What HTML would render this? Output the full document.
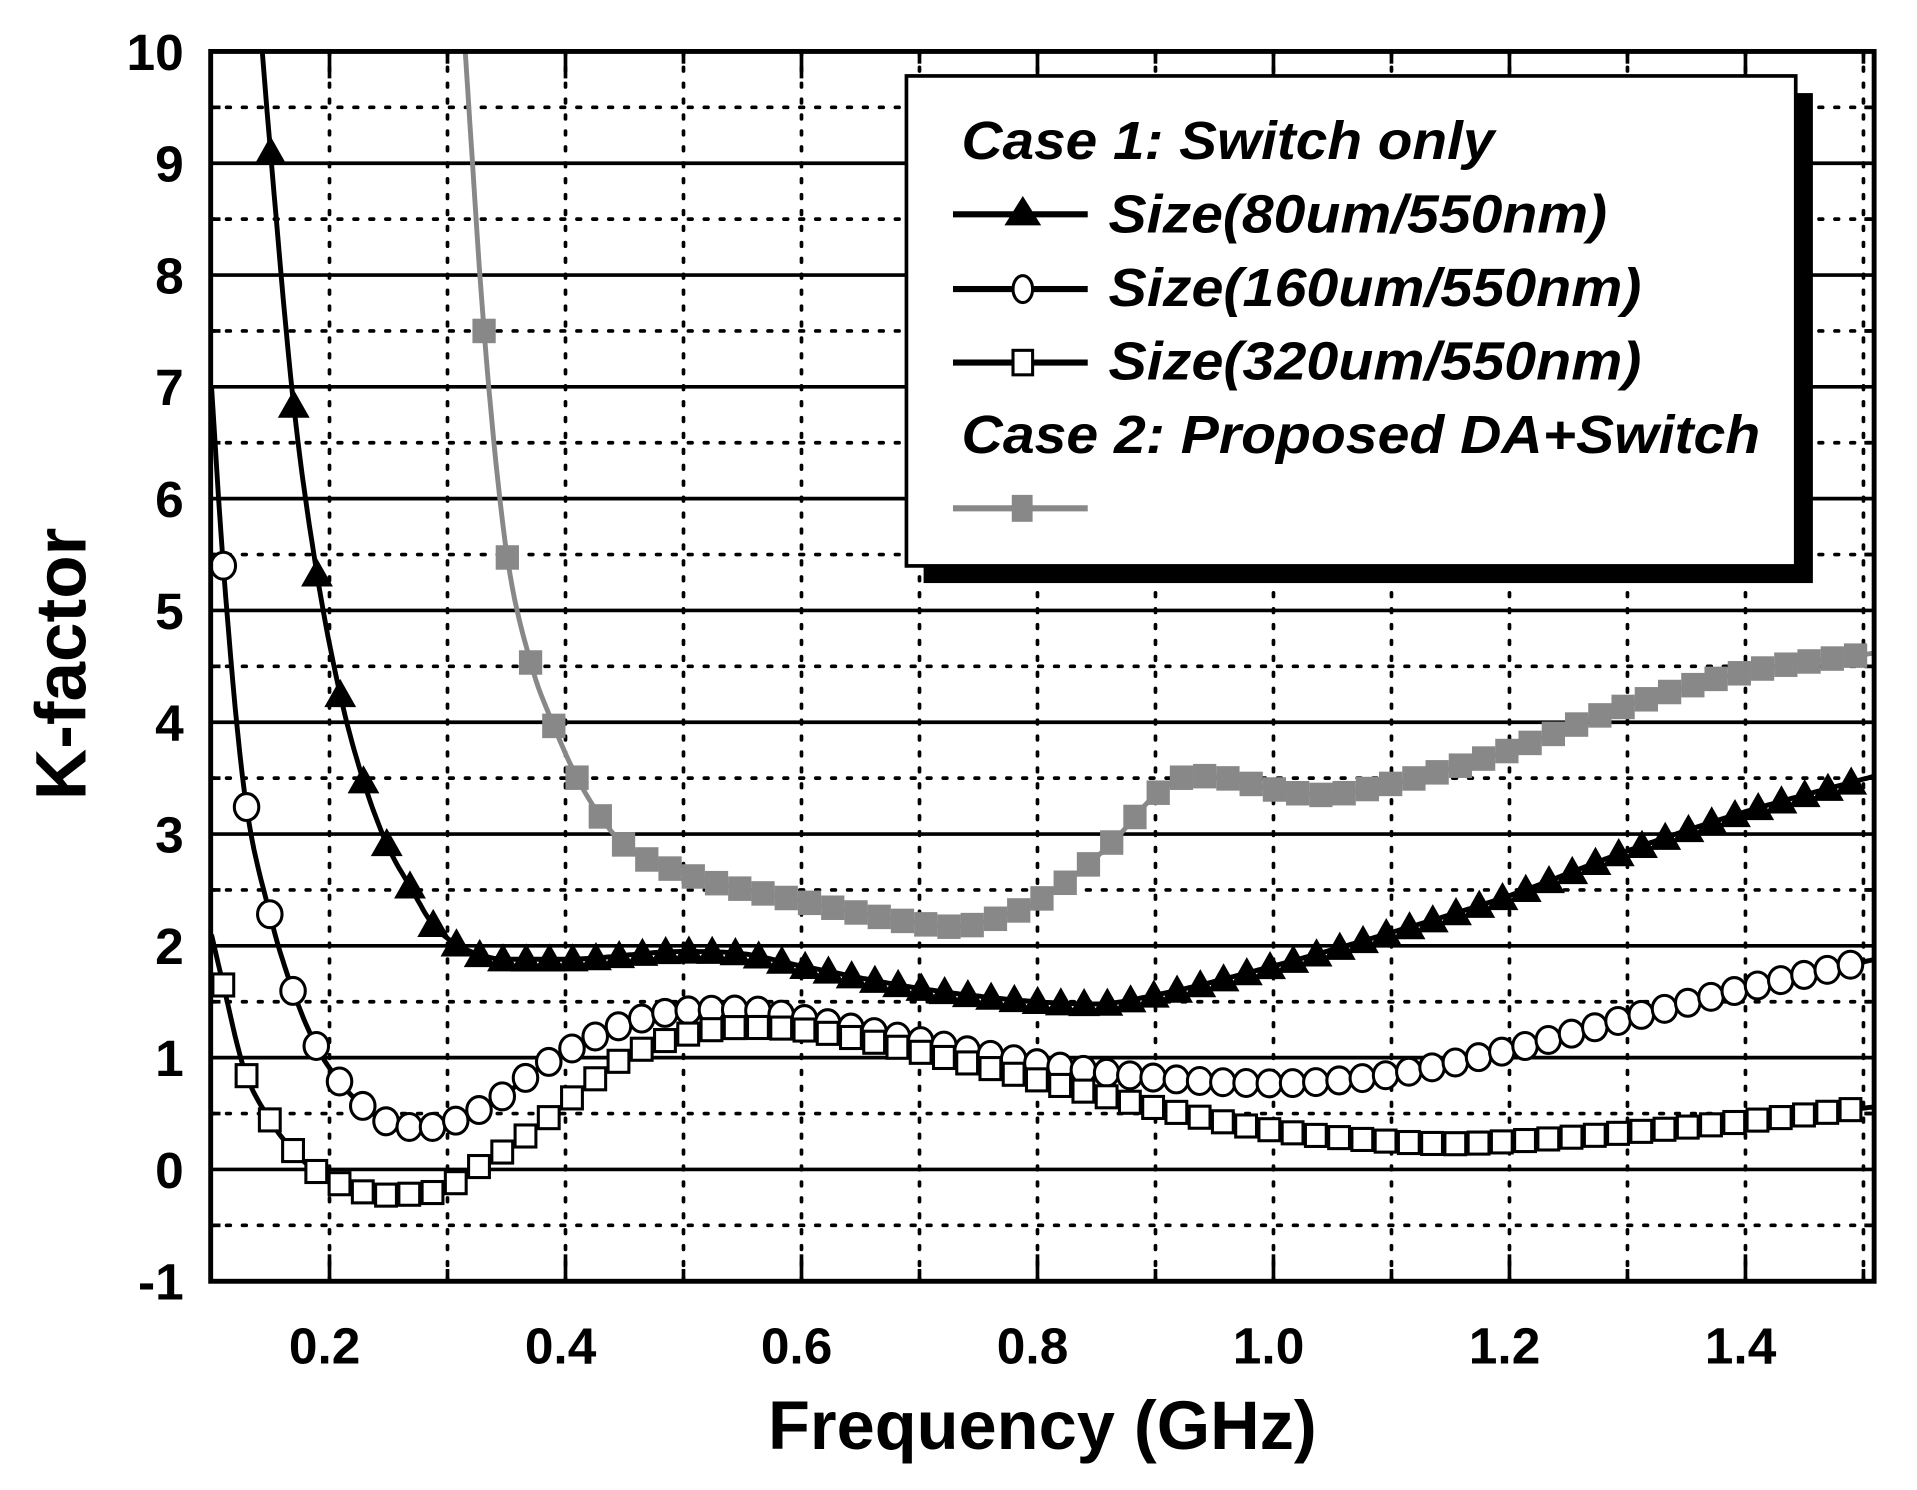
<!DOCTYPE html>
<html><head><meta charset="utf-8"><style>
html,body{margin:0;padding:0;background:#fff;}
svg{display:block;}
text{font-family:"Liberation Sans",sans-serif;font-weight:bold;}
</style></head><body>
<svg id="s" width="1917" height="1490" viewBox="0 0 1565 1216.4" preserveAspectRatio="none" xmlns="http://www.w3.org/2000/svg">
<rect x="0" y="0" width="1565" height="1217" fill="#fff"/>
<g id="grid"></g>
<g id="series"></g>
<g id="legend">
<rect x="754" y="76" width="726" height="400" fill="#000"/>
<rect x="740" y="62" width="726" height="400" fill="#fff" stroke="#000" stroke-width="3"/>
<text x="785" y="130" font-size="44" font-style="italic" textLength="435" lengthAdjust="spacingAndGlyphs">Case 1: Switch only</text>
<line x1="778" y1="175" x2="888" y2="175" stroke="#000" stroke-width="5"/>
<polygon points="835,160 820,184 850,184" fill="#000"/>
<text x="905" y="190" font-size="44" font-style="italic" textLength="407" lengthAdjust="spacingAndGlyphs">Size(80um/550nm)</text>
<line x1="778" y1="236" x2="888" y2="236" stroke="#000" stroke-width="5"/>
<ellipse cx="835" cy="236" rx="8" ry="11" fill="#fff" stroke="#000" stroke-width="2.5"/>
<text x="905" y="250" font-size="44" font-style="italic" textLength="435" lengthAdjust="spacingAndGlyphs">Size(160um/550nm)</text>
<line x1="778" y1="296" x2="888" y2="296" stroke="#000" stroke-width="5"/>
<rect x="827" y="286" width="16" height="20" fill="#fff" stroke="#000" stroke-width="2.5"/>
<text x="905" y="310" font-size="44" font-style="italic" textLength="435" lengthAdjust="spacingAndGlyphs">Size(320um/550nm)</text>
<text x="785" y="370" font-size="44" font-style="italic" textLength="652" lengthAdjust="spacingAndGlyphs">Case 2: Proposed DA+Switch</text>
<line x1="778" y1="415" x2="888" y2="415" stroke="#888" stroke-width="5"/>
<rect x="826" y="404" width="17" height="22" fill="#888"/>
</g>
<g id="labels"></g>
</svg>
<script>
var NS="http://www.w3.org/2000/svg";
function X(f){return 269+(f-0.2)*963.3;}
function Y(k){return 42+(10-k)*91.27;}
function el(p,t,a,txt){var e=document.createElementNS(NS,t);for(var k in a)e.setAttribute(k,a[k]);if(txt!=null)e.textContent=txt;document.getElementById(p).appendChild(e);return e;}
var L=172,R=1530,T=42,B=1046;
for(var k=-1;k<=10;k++){var y=Y(k);
 if(k>-1&&k<10) el("grid","line",{x1:L,y1:y,x2:R,y2:y,stroke:"#000","stroke-width":3});
 el("labels","text",{x:150,y:y+15,"font-size":42,"text-anchor":"end"},String(k));
 if(k<10){var ym=Y(k+0.5);el("grid","line",{x1:L,y1:ym,x2:R,y2:ym,stroke:"#000","stroke-width":3,"stroke-dasharray":"3 10","stroke-linecap":"round"});
  el("grid","line",{x1:L,y1:ym,x2:L+8,y2:ym,stroke:"#000","stroke-width":3});el("grid","line",{x1:R-8,y1:ym,x2:R,y2:ym,stroke:"#000","stroke-width":3});}
}
for(var i=2;i<=15;i++){var f=i/10,x=X(f);
 el("grid","line",{x1:x,y1:T,x2:x,y2:B,stroke:"#000","stroke-width":3,"stroke-dasharray":"3 10","stroke-linecap":"round"});
 var tl=(i%2==0)?22:10;
 el("grid","line",{x1:x,y1:T,x2:x,y2:T+tl,stroke:"#000","stroke-width":3});
 el("grid","line",{x1:x,y1:B-tl,x2:x,y2:B,stroke:"#000","stroke-width":3});
 if(i%2==0) el("labels","text",{x:x-4,y:1113,"font-size":42,"text-anchor":"middle"},f.toFixed(1));
}
el("labels","rect",{x:L,y:T,width:R-L,height:B-T,fill:"none",stroke:"#000","stroke-width":4});
el("labels","text",{x:851,y:1183,"font-size":56,"text-anchor":"middle"},"Frequency (GHz)");
el("labels","text",{x:0,y:0,"font-size":58,"text-anchor":"middle",transform:"translate(70,542) rotate(-90)"},"K-factor");
function mk(P){var n=P.length,xs=P.map(p=>p[0]),ys=P.map(p=>p[1]),d=[],m=[];
 for(var i=0;i<n-1;i++)d.push((ys[i+1]-ys[i])/(xs[i+1]-xs[i]));
 m[0]=d[0];m[n-1]=d[n-2];
 for(var i=1;i<n-1;i++){m[i]=(d[i-1]*d[i]<=0)?0:(d[i-1]+d[i])/2;}
 for(var i=0;i<n-1;i++){if(d[i]==0){m[i]=m[i+1]=0;continue;}var a=m[i]/d[i],b=m[i+1]/d[i],s=a*a+b*b;if(s>9){var t=3/Math.sqrt(s);m[i]=t*a*d[i];m[i+1]=t*b*d[i];}}
 return function(x){var i=0;while(i<n-2&&x>xs[i+1])i++;var h=xs[i+1]-xs[i],t=(x-xs[i])/h,t2=t*t,t3=t2*t;
  return (2*t3-3*t2+1)*ys[i]+(t3-2*t2+t)*h*m[i]+(-2*t3+3*t2)*ys[i+1]+(t3-t2)*h*m[i+1];};}
var S1=[[0.143,10],[0.15,9.1],[0.169,6.9],[0.189,5.35],[0.209,4.25],[0.228,3.5],[0.249,2.9],[0.27,2.5],[0.287,2.2],[0.31,2.0],[0.35,1.88],[0.4,1.88],[0.5,1.95],[0.55,1.93],[0.6,1.82],[0.7,1.62],[0.8,1.5],[0.85,1.48],[0.9,1.56],[1.0,1.82],[1.1,2.12],[1.2,2.45],[1.3,2.85],[1.4,3.2],[1.51,3.52]];
var S2=[[0.1,7],[0.11,5.4],[0.127,3.45],[0.149,2.3],[0.169,1.6],[0.189,1.1],[0.209,0.78],[0.228,0.57],[0.248,0.43],[0.268,0.38],[0.29,0.38],[0.31,0.45],[0.33,0.55],[0.35,0.68],[0.37,0.85],[0.4,1.05],[0.45,1.3],[0.5,1.42],[0.55,1.43],[0.6,1.35],[0.7,1.15],[0.8,0.95],[0.9,0.82],[1.0,0.77],[1.1,0.85],[1.2,1.07],[1.3,1.35],[1.4,1.62],[1.51,1.88]];
var S3=[[0.1,2.1],[0.11,1.65],[0.127,0.92],[0.149,0.45],[0.169,0.17],[0.189,-0.02],[0.209,-0.13],[0.228,-0.2],[0.25,-0.23],[0.27,-0.22],[0.29,-0.2],[0.31,-0.1],[0.33,0.05],[0.35,0.18],[0.37,0.33],[0.39,0.5],[0.41,0.68],[0.43,0.85],[0.45,1.0],[0.5,1.2],[0.55,1.27],[0.6,1.25],[0.7,1.05],[0.8,0.8],[0.9,0.55],[1.0,0.35],[1.1,0.25],[1.15,0.23],[1.2,0.25],[1.3,0.33],[1.4,0.43],[1.51,0.56]];
var S4=[[0.315,10],[0.331,7.5],[0.349,5.6],[0.37,4.55],[0.39,3.97],[0.41,3.5],[0.43,3.15],[0.45,2.9],[0.5,2.65],[0.6,2.4],[0.7,2.2],[0.73,2.17],[0.78,2.3],[0.8,2.4],[0.84,2.7],[0.87,3.0],[0.9,3.35],[0.93,3.52],[0.96,3.5],[1.0,3.4],[1.04,3.35],[1.1,3.45],[1.2,3.75],[1.3,4.15],[1.4,4.45],[1.51,4.62]];
function draw(P,col,f0,mf0,mark){var fn=mk(P),d="";
 for(var f=f0;f<=1.51;f+=0.002){var k=fn(f);d+=(d?"L":"M")+X(f).toFixed(1)+" "+Y(k).toFixed(1);}
 el("series","path",{d:d,fill:"none",stroke:col,"stroke-width":4});
 for(var f=mf0;f<=1.508;f+=0.0197){var x=X(f),y=Y(fn(f));if(x>1528)break;
  if(mark=="tri")el("series","polygon",{points:(x)+","+(y-13)+" "+(x-13)+","+(y+10)+" "+(x+13)+","+(y+10),fill:"#000"});
  else if(mark=="circ")el("series","ellipse",{cx:x,cy:y,rx:10,ry:11,fill:"#fff",stroke:"#000","stroke-width":2.5});
  else if(mark=="sq")el("series","rect",{x:x-8.5,y:y-9,width:17,height:18,fill:"#fff",stroke:"#000","stroke-width":2.5});
  else el("series","rect",{x:x-9.5,y:y-10,width:19,height:20,fill:"#888"});
 }}
draw(S4,"#888",0.315,0.331,"gsq");
draw(S1,"#000",0.143,0.15,"tri");
draw(S2,"#000",0.1,0.11,"circ");
draw(S3,"#000",0.1,0.11,"sq");
</script>
</body></html>
